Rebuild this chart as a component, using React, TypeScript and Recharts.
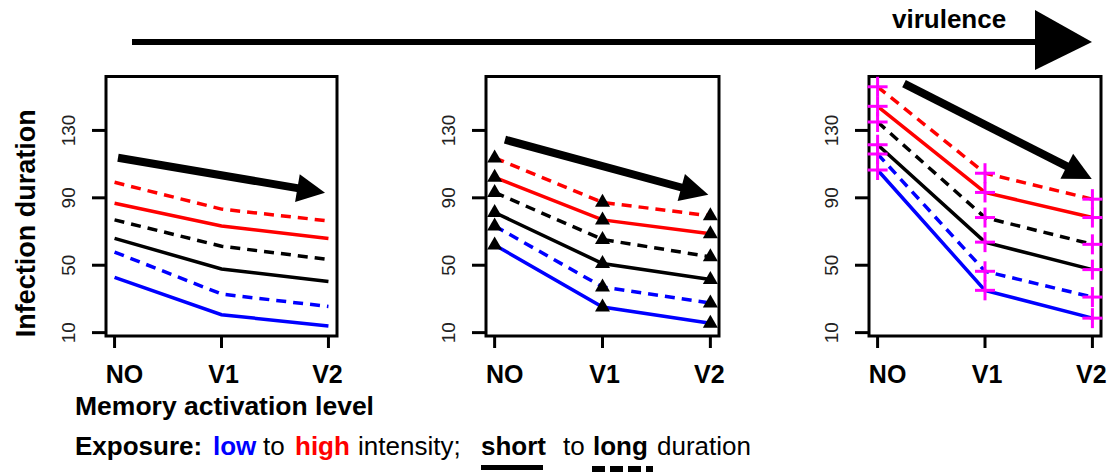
import { LineChart, Line, XAxis, YAxis, ReferenceArea, ReferenceLine, Label } from "recharts";

const categories = ["NO", "V1", "V2"];
const yTicks = [10, 50, 90, 130];

// left panel (lowest virulence): low/mid/high intensity x short/long duration
const virALowShort = [42.8, 20.6, 14.0];
const virALowLong = [57.8, 32.9, 25.5];
const virAMidShort = [65.9, 47.8, 40.4];
const virAMidLong = [76.9, 61.3, 53.4];
const virAHighShort = [86.8, 73.3, 65.9];
const virAHighLong = [99.2, 83.3, 76.3];

// middle panel
const virBLowShort = [62.0, 25.2, 15.6];
const virBLowLong = [73.3, 37.1, 27.6];
const virBMidShort = [81.3, 51.0, 41.5];
const virBMidLong = [93.2, 65.3, 55.0];
const virBHighShort = [102.2, 76.9, 68.7];
const virBHighLong = [113.7, 87.3, 79.3];

// right panel (highest virulence)
const virCLowShort = [106.5, 35.1, 18.6];
const virCLowLong = [116.0, 46.4, 31.1];
const virCMidShort = [121.5, 63.7, 47.4];
const virCMidLong = [135.0, 78.3, 62.4];
const virCHighShort = [144.3, 93.2, 78.3];
const virCHighLong = [155.9, 104.6, 89.2];

// trend arrows inside panels, [x1, y1, x2, y2] in data units
const arrowA = [1.032, 113.8, 2.968, 93.0];
const arrowB = [1.096, 124.5, 2.981, 91.8];
const arrowC = [1.246, 157.8, 2.994, 101.2];

const series = [
  { key: "lowShort", color: "#0000ff", dashed: false },
  { key: "lowLong", color: "#0000ff", dashed: true },
  { key: "midShort", color: "#000000", dashed: false },
  { key: "midLong", color: "#000000", dashed: true },
  { key: "highShort", color: "#ff0000", dashed: false },
  { key: "highLong", color: "#ff0000", dashed: true },
];

const FONT = "'Liberation Sans', Arial, Helvetica, sans-serif";
const X_DOMAIN: [number, number] = [0.92, 3.08];
const Y_DOMAIN: [number, number] = [8, 162];
const labelNudge = [10, 2, -1];

function buildRows(arrs: number[][]) {
  return categories.map((c, i) => {
    const row: any = { x: i + 1, cat: c };
    series.forEach((s, k) => (row[s.key] = arrs[k][i]));
    return row;
  });
}

const XTick = (props: any) => {
  const { x, y, payload } = props;
  const i = payload.value - 1;
  return (
    <text x={x + labelNudge[i]} y={y + 33} textAnchor="middle" fontSize={25} fontWeight="bold" fontFamily={FONT} fill="#000">
      {categories[i]}
    </text>
  );
};

const YTick = (props: any) => {
  const { x, y, payload } = props;
  const bx = x - 15;
  return (
    <text x={bx} y={y} transform={`rotate(-90 ${bx} ${y})`} textAnchor="middle" fontSize={19} fontFamily={FONT} fill="#222">
      {payload.value}
    </text>
  );
};

const Tri = (props: any) => {
  const { cx, cy } = props;
  return <polygon points={`${cx},${cy - 8.5} ${cx + 7.5},${cy + 4.5} ${cx - 7.5},${cy + 4.5}`} fill="#000" />;
};

const Plus = (props: any) => {
  const { cx, cy } = props;
  return (
    <g stroke="#ff00ff" strokeWidth={3}>
      <line x1={cx - 10} y1={cy} x2={cx + 10} y2={cy} />
      <line x1={cx} y1={cy - 10} x2={cx} y2={cy + 10} />
    </g>
  );
};

const ArrowShape = (p: any) => {
  const { x1, y1, x2, y2 } = p;
  if (x1 == null || x2 == null) return <g />;
  const dx = x2 - x1;
  const dy = y2 - y1;
  const len = Math.hypot(dx, dy);
  const ux = dx / len;
  const uy = dy / len;
  const head = 28;
  const half = 14;
  const bx = x2 - ux * head;
  const by = y2 - uy * head;
  return (
    <g>
      <line x1={x1} y1={y1} x2={bx + ux * 3} y2={by + uy * 3} stroke="#000" strokeWidth={8} />
      <polygon points={`${x2},${y2} ${bx - uy * half},${by + ux * half} ${bx + uy * half},${by - ux * half}`} fill="#000" />
    </g>
  );
};

function Panel({ boxLeft, boxWidth, arrs, marker, arrow, yLabel }: any) {
  const axisW = 100;
  const rows = buildRows(arrs);
  const dot = marker === "tri" ? (d: any) => <Tri key={d.index} cx={d.cx} cy={d.cy} /> : marker === "plus" ? (d: any) => <Plus key={d.index} cx={d.cx} cy={d.cy} /> : false;
  return (
    <div style={{ position: "absolute", left: boxLeft - axisW, top: 60 }}>
      <LineChart width={axisW + boxWidth + 9} height={340} data={rows} margin={{ top: 16.5, right: 9, bottom: 0, left: 0 }}>
        <XAxis
          type="number"
          dataKey="x"
          domain={X_DOMAIN}
          ticks={[1, 2, 3]}
          interval={0}
          axisLine={false}
          tickSize={12}
          tickLine={{ stroke: "#000", strokeWidth: 3 }}
          height={64}
          tick={<XTick />}
        />
        <YAxis
          type="number"
          domain={Y_DOMAIN}
          ticks={yTicks}
          interval={0}
          width={axisW}
          axisLine={false}
          tickSize={14}
          tickLine={{ stroke: "#000", strokeWidth: 3 }}
          tick={<YTick />}
        >
          {yLabel && (
            <Label
              content={(lp: any) => {
                const vb = lp.viewBox || { x: 0, y: 16.5, height: 259.5 };
                const bx = vb.x + 29;
                const cy = vb.y + vb.height / 2 + 17;
                return (
                  <text x={bx} y={cy} transform={`rotate(-90 ${bx} ${cy})`} textAnchor="middle" fontSize={27} fontWeight="bold" fontFamily={FONT} fill="#000">
                    Infection duration
                  </text>
                );
              }}
            />
          )}
        </YAxis>
        <ReferenceArea x1={X_DOMAIN[0]} x2={X_DOMAIN[1]} y1={Y_DOMAIN[0]} y2={Y_DOMAIN[1]} fill="none" stroke="#000" strokeWidth={3} ifOverflow="visible" />
        {series.map((s) => (
          <Line
            key={s.key}
            dataKey={s.key}
            stroke={s.color}
            strokeWidth={3.5}
            strokeDasharray={s.dashed ? "10 7" : undefined}
            dot={dot}
            activeDot={false}
            isAnimationActive={false}
          />
        ))}
        <ReferenceLine
          segment={[
            { x: arrow[0], y: arrow[1] },
            { x: arrow[2], y: arrow[3] },
          ]}
          ifOverflow="visible"
          shape={ArrowShape}
        />
      </LineChart>
    </div>
  );
}

export default function App() {
  return (
    <div style={{ position: "absolute", left: 0, top: 0, width: 1110, height: 472, background: "#fff", overflow: "hidden", fontFamily: FONT }}>
      <Panel boxLeft={106} boxWidth={231} arrs={[virALowShort, virALowLong, virAMidShort, virAMidLong, virAHighShort, virAHighLong]} marker="none" arrow={arrowA} yLabel />
      <Panel boxLeft={486} boxWidth={233} arrs={[virBLowShort, virBLowLong, virBMidShort, virBMidLong, virBHighShort, virBHighLong]} marker="tri" arrow={arrowB} />
      <Panel boxLeft={869} boxWidth={232} arrs={[virCLowShort, virCLowLong, virCMidShort, virCMidLong, virCHighShort, virCHighLong]} marker="plus" arrow={arrowC} />
      <svg width={1110} height={472} style={{ position: "absolute", left: 0, top: 0, pointerEvents: "none" }} fontFamily={FONT}>
        {/* virulence arrow */}
        <line x1={132} y1={42} x2={1040} y2={42} stroke="#000" strokeWidth={6} />
        <polygon points="1035,10 1092,42 1035,70" fill="#000" />
        <text x={892} y={28} fontSize={26} fontWeight="bold" fill="#000">virulence</text>
        <text x={75} y={415} fontSize={26.5} fontWeight="bold" fill="#000">Memory activation level</text>
        <g fontSize={26} fill="#000">
          <text x={75} y={455} fontWeight="bold">Exposure:</text>
          <text x={213} y={455} fontWeight="bold" fill="#0000ff">low</text>
          <text x={263} y={455}>to</text>
          <text x={295} y={455} fontWeight="bold" fill="#ff0000">high</text>
          <text x={358} y={455}>intensity;</text>
          <text x={481} y={455} fontWeight="bold">short</text>
          <text x={563} y={455}>to</text>
          <text x={593} y={455} fontWeight="bold">long</text>
          <text x={657} y={455}>duration</text>
        </g>
        <line x1={481} y1={467.5} x2={543} y2={467.5} stroke="#000" strokeWidth={5} />
        <line x1={592} y1={469.5} x2={653} y2={469.5} stroke="#000" strokeWidth={7} strokeDasharray="13 5" />
      </svg>
    </div>
  );
}
